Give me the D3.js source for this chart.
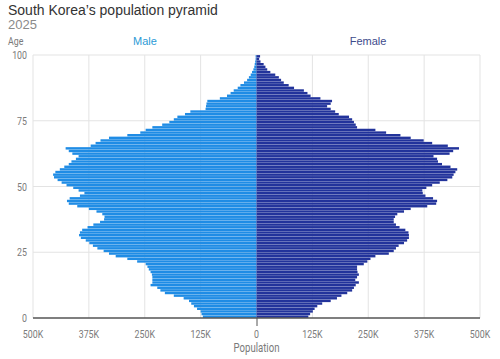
<!DOCTYPE html>
<html>
<head>
<meta charset="utf-8">
<script src="https://cdn.jsdelivr.net/npm/d3@7"></script>
<style>
  html, body { margin: 0; padding: 0; background: #fff; }
  svg { display: block; }
  .cond { font-family: Roboto, "Liberation Sans", sans-serif; }
</style>
</head>
<body>
<svg id="chart" width="500" height="359"></svg>
<script>
// Ages (categories)
const ages = [0,1,2,3,4,5,6,7,8,9,10,11,12,13,14,15,16,17,18,19,20,21,22,23,24,25,26,27,28,29,30,31,32,33,34,35,36,37,38,39,40,41,42,43,44,45,46,47,48,49,50,51,52,53,54,55,56,57,58,59,60,61,62,63,64,65,66,67,68,69,70,71,72,73,74,75,76,77,78,79,80,81,82,83,84,85,86,87,88,89,90,91,92,93,94,95,96,97,98,99];
// Population in thousands
const male = [120,123,125,133,140,146,151,163,185,205,
  215,222,237,233,233,233,234,237,241,244,
  248,267,289,315,330,342,356,366,374,382,
  393,397,395,390,378,365,350,341,340,345,
  358,375,401,420,424,418,395,385,398,410,
  425,436,445,453,455,450,440,430,420,414,
  404,398,412,420,427,371,360,349,330,289,
  260,248,233,211,195,185,177,160,148,114,
  113,112,110,82,66,58,51,42,36,28,
  21,17,13,10,7,5,4,3,2,2];
const female = [116,120,126,130,136,147,166,180,190,203,
  214,218,222,229,221,225,229,226,225,225,
  240,248,255,266,296,307,312,318,330,337,
  341,341,340,333,320,312,307,307,310,315,
  330,345,382,402,404,395,378,372,371,380,
  393,410,427,438,441,445,449,434,415,406,
  404,396,432,440,453,428,393,374,345,322,
  290,266,225,222,218,214,207,184,176,166,
  158,166,169,143,121,114,106,84,72,61,
  55,50,42,31,24,20,16,9,6,8];
const xTicks = [-500,-375,-250,-125,0,125,250,375,500];
const xTickLabels = ["500K","375K","250K","125K","0","125K","250K","375K","500K"];
const yTicks = [0,25,50,75,100];

const svg = d3.select("#chart");
const x = d3.scaleLinear().domain([-500, 500]).range([33, 480]);
const y = d3.scaleLinear().domain([0, 100]).range([318, 55]);
const SX = 0.8; // condensed look

function condText(g, tx, ty, str, size, anchor) {
  return g.append("text").attr("class", "cond")
    .attr("transform", `translate(${tx},${ty}) scale(${SX},1)`)
    .attr("text-anchor", anchor).attr("font-size", size).attr("fill", "#7a7a7a")
    .text(str);
}

// Title
svg.append("text").attr("x", 8).attr("y", 15)
  .attr("font-family", "Liberation Sans, Arial, sans-serif")
  .attr("font-size", 14).attr("fill", "#333")
  .text("South Korea\u2019s population pyramid");
svg.append("text").attr("x", 8).attr("y", 29)
  .attr("font-family", "Liberation Sans, Arial, sans-serif")
  .attr("font-size", 13).attr("fill", "#8a8a8a")
  .text("2025");
condText(svg, 8, 45, "Age", 11, "start");

svg.append("text").attr("x", 145).attr("y", 45).attr("text-anchor", "middle")
  .attr("font-family", "Liberation Sans, Arial, sans-serif")
  .attr("font-size", 11).attr("fill", "#2c9ad6").text("Male");
svg.append("text").attr("x", 368).attr("y", 45).attr("text-anchor", "middle")
  .attr("font-family", "Liberation Sans, Arial, sans-serif")
  .attr("font-size", 11).attr("fill", "#3d4b8c").text("Female");

// Gridlines
const grid = svg.append("g");
grid.selectAll("line.v").data(xTicks).join("line")
  .attr("x1", d => x(d)).attr("x2", d => x(d))
  .attr("y1", y(100)).attr("y2", y(0))
  .attr("stroke", "#e3e3e3").attr("stroke-width", 1);
grid.selectAll("line.h").data(yTicks.filter(d => d > 0)).join("line")
  .attr("x1", x(-500)).attr("x2", x(500))
  .attr("y1", d => y(d)).attr("y2", d => y(d))
  .attr("stroke", "#e3e3e3").attr("stroke-width", 1);

// Bars
const bh = y(0) - y(1);
const gap = 0.22;
svg.append("g").selectAll("rect").data(ages).join("rect")
  .attr("x", (d, i) => x(-male[i]))
  .attr("y", d => y(d + 1) + gap / 2)
  .attr("width", (d, i) => x(0) - x(-male[i]))
  .attr("height", bh - gap)
  .attr("fill", "#1f8ce5");
svg.append("g").selectAll("rect").data(ages).join("rect")
  .attr("x", x(0))
  .attr("y", d => y(d + 1) + gap / 2)
  .attr("width", (d, i) => x(female[i]) - x(0))
  .attr("height", bh - gap)
  .attr("fill", "#22339b");

// Y axis labels
const gy = svg.append("g");
yTicks.forEach(d => condText(gy, 27, y(d) + 4, String(d), 11, "end"));

// X axis
const xAxis = d3.axisBottom(x).tickValues([0]).tickSize(8).tickFormat("");
const gx = svg.append("g").attr("transform", `translate(0,${y(0)})`).call(xAxis);
gx.select(".domain").attr("stroke", "#555").attr("stroke-width", 1.5)
  .attr("d", `M${x(-500)},0H${x(500)}`);
gx.selectAll(".tick line").attr("stroke", "#555");
const gxl = svg.append("g");
xTicks.forEach((d, i) => condText(gxl, x(d), 338, xTickLabels[i], 11, "middle"));
condText(svg, x(0), 352, "Population", 12, "middle");
</script>
</body>
</html>
